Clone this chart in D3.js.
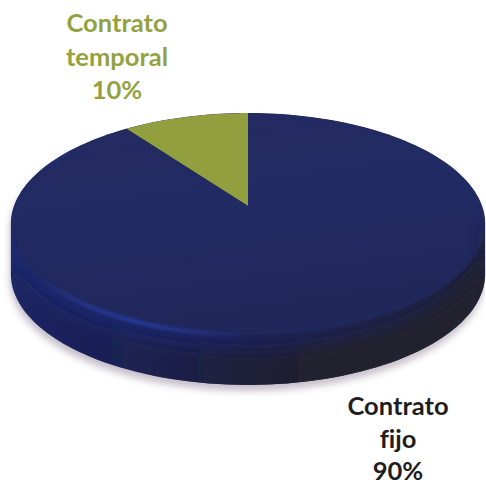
<!DOCTYPE html>
<html>
<head>
<meta charset="utf-8">
<script src="https://cdn.jsdelivr.net/npm/d3@7"></script>
<style>
html,body{margin:0;padding:0;background:#fff;}
svg{display:block;}
text{font-family:Lato,"Open Sans",sans-serif;font-weight:700;text-anchor:middle;font-variant-ligatures:none;}
</style>
</head>
<body>
<svg id="chart" width="486" height="486"></svg>
<script>
// Employment contract split
const categories = ["Contrato fijo", "Contrato temporal"];
const shares = [90, 10];
const sliceColors = ["#222a5f", "#929f3f"];
const labelLines = [["Contrato", "fijo", "90%"], ["Contrato", "temporal", "10%"]];
const labelColors = ["#1e1e1e", "#93a23f"];

const svg = d3.select("#chart");
const defs = svg.append("defs");

// Tilted disc: apex position, foreshortening and rim depth
const apex = {x: 248, y: 206};
const tilt = 0.162;
const depth = 50;
const sx = d3.scaleLinear().domain([-1, 1]).range([apex.x - 234, apex.x + 234]);
const sy = d3.scaleLinear().domain([-1, 1]).range([apex.y + 108, apex.y - 108]);

// Perspective projection of a point on the unit circle
function project(angle) {
  const u = Math.sin(angle), v = Math.cos(angle);
  const w = 1 + tilt * v;
  return [sx(u / w), sy(v / w)];
}
const samples = d3.range(0, 361, 2).map(d => d * Math.PI / 180);
const ring = samples.map(a => project(a));
const line = d3.line();

const arcs = d3.pie().sort(null).startAngle(-Math.PI * 0.2).endAngle(Math.PI * 1.8)(
  [shares[1], shares[0]]
);

// Paint definitions
function gradient(id, stops, attrs) {
  const g = defs.append("linearGradient").attr("id", id);
  Object.entries(attrs || {}).forEach(([k, v]) => g.attr(k, v));
  stops.forEach(([o, c, a]) => g.append("stop").attr("offset", o).attr("stop-color", c).attr("stop-opacity", a === undefined ? 1 : a));
}
gradient("rim", [[0, "#1c2a6e"], [0.3, "#1b2562"], [0.5, "#1c2254"], [0.75, "#1f2248"], [1, "#20223c"]]);
gradient("face", [[0, "#232b60"], [0.55, "#212a63"], [1, "#20275a"]],
  {x1: 0, y1: 0, x2: 0.3, y2: 1});
gradient("dusk", [[0, "#1a1c4a", 0.35], [0.25, "#1b1c44", 0.55], [0.45, "#1e1e38", 0.85], [0.65, "#20202e", 1], [1, "#20202e", 1]],
  {gradientUnits: "userSpaceOnUse", x1: 11, y1: 0, x2: 485, y2: 0});
gradient("glint", [[0, "#2a3fb0", 0], [0.12, "#2a3fb0", 0.4], [0.42, "#2a3fb0", 0.8], [0.75, "#2a3fb0", 0.3], [1, "#2a3fb0", 0]],
  {gradientUnits: "userSpaceOnUse", x1: 40, y1: 0, x2: 270, y2: 0});
function blur(id, dev) {
  defs.append("filter").attr("id", id)
    .attr("filterUnits", "userSpaceOnUse")
    .attr("x", 0).attr("y", 0).attr("width", 486).attr("height", 486)
    .append("feGaussianBlur").attr("stdDeviation", dev);
}
blur("soft", 3.5);
blur("edge", 1.6);
blur("fade", 7);

// Rim outline: hull of the face and its lowered copy
const hull = d3.polygonHull(ring.concat(ring.map(([x, y]) => [x, y + depth])));
const hullPath = line(hull) + "Z";
defs.append("clipPath").attr("id", "body").append("path").attr("d", hullPath);

// Soft floor shadow
svg.append("path")
  .attr("d", hullPath)
  .attr("transform", "translate(-1,6)")
  .attr("fill", "#c6bfca")
  .attr("filter", "url(#soft)");

// Body of the disc
svg.append("path").attr("d", hullPath).attr("fill", "url(#rim)");

const body = svg.append("g").attr("clip-path", "url(#body)");

// Slices on the top face
function slicePath(d) {
  const n = Math.max(2, Math.ceil((d.endAngle - d.startAngle) / 0.03));
  const pts = d3.range(n + 1).map(i => project(d.startAngle + (d.endAngle - d.startAngle) * i / n));
  return line([[apex.x, apex.y], ...pts]) + "Z";
}
body.append("g").selectAll("path")
  .data(arcs)
  .join("path")
  .attr("d", slicePath)
  .attr("fill", (d, i) => i === 0 ? sliceColors[1] : "url(#face)");

// Shaded band along the front of the rim, darkening toward the right
const front = samples.filter(a => a >= Math.PI / 2 && a <= Math.PI * 1.5);
const bandUpper = front.map(a => { const [x, y] = project(a); return [x, y + 16]; });
const bandLower = front.slice().reverse().map(a => { const [x, y] = project(a); return [x, y + depth + 12]; });
body.append("path")
  .attr("d", line(bandUpper.concat(bandLower)) + "Z")
  .attr("fill", "url(#dusk)")
  .attr("filter", "url(#fade)");

// Light catching the front edge of the face
body.append("path")
  .attr("d", line(samples.filter(a => a > Math.PI * 1.0 && a < Math.PI * 1.7).map(a => project(a))))
  .attr("fill", "none")
  .attr("stroke", "url(#glint)")
  .attr("stroke-width", 4)
  .attr("filter", "url(#edge)");

// Labels
const placements = [{x: 398, y: 415, step: 32.5}, {x: 117, y: 32, step: 33.5}];
labelLines.forEach((lines, i) => {
  const t = svg.append("text").attr("font-size", 25.5).attr("fill", labelColors[i]);
  lines.forEach((s, k) => {
    t.append("tspan")
      .attr("x", placements[i].x)
      .attr("y", placements[i].y + k * placements[i].step)
      .text(s);
  });
});
</script>
</body>
</html>
